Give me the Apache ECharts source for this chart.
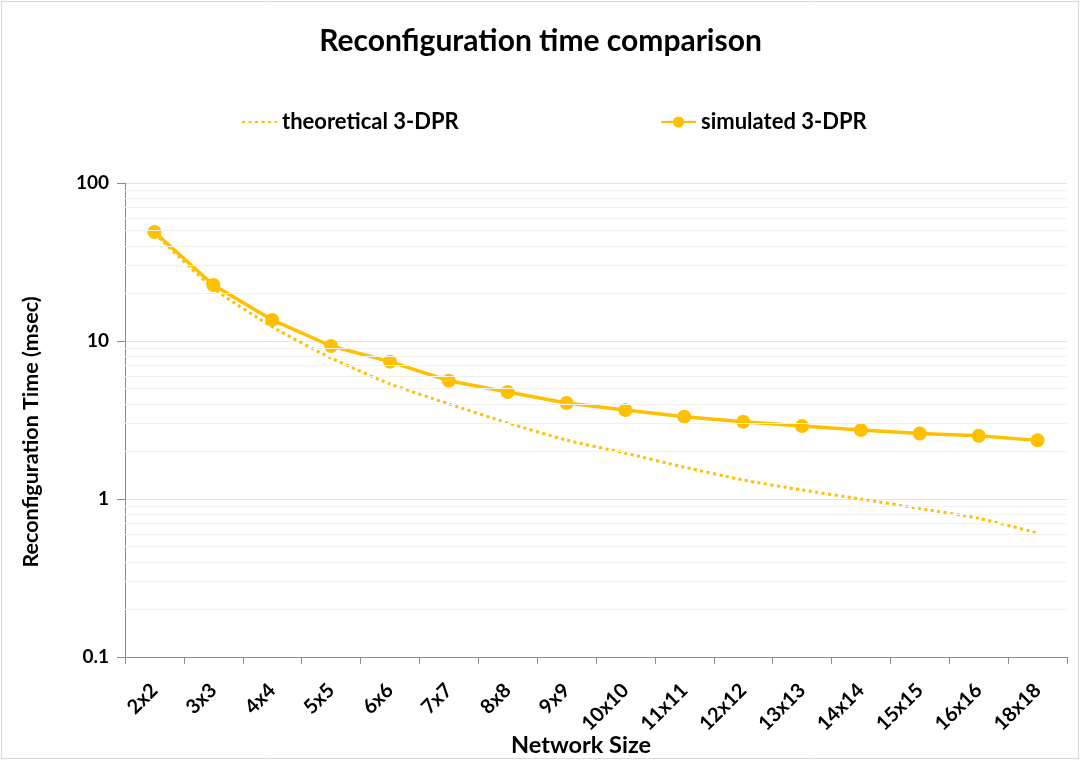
<!DOCTYPE html>
<html>
<head>
<meta charset="utf-8">
<title>Reconfiguration time comparison</title>
<script src="https://cdn.jsdelivr.net/npm/echarts@6/dist/echarts.min.js"></script>
<style>
  html, body { margin: 0; padding: 0; background: #fff; }
  #chart { width: 1081px; height: 761px; }
</style>
</head>
<body>
<div id="chart"></div>
<script>
// Network sizes along the x axis
const categories = ['2x2', '3x3', '4x4', '5x5', '6x6', '7x7', '8x8', '9x9', '10x10',
  '11x11', '12x12', '13x13', '14x14', '15x15', '16x16', '18x18'];

// Reconfiguration time (msec)
const theoretical = [48, 21.6, 12.3, 7.8, 5.35, 4.0, 3.03, 2.36, 1.95, 1.59, 1.32, 1.14, 1.0, 0.87, 0.755, 0.61];
const simulated = [49, 22.6, 13.6, 9.3, 7.4, 5.6, 4.75, 4.05, 3.66, 3.32, 3.08, 2.9, 2.73, 2.6, 2.51, 2.35];

// Log-axis decade ticks and the in-between minor grid values
const yTicks = [0.1, 1, 10, 100];
const minorGrid = [0.2, 0.3, 0.4, 0.5, 0.6, 0.7, 0.8, 0.9,
  2, 3, 4, 5, 6, 7, 8, 9,
  20, 30, 40, 50, 60, 70, 80, 90];

const FONT = 'Lato, "Open Sans", "Liberation Sans", sans-serif';
const GOLD = '#FFC000';
const AXIS = '#8c8c8c';

const chart = echarts.init(document.getElementById('chart'), null, { renderer: 'canvas' });

const legendText = { fontFamily: FONT, fontWeight: 'bold', fontSize: 22, color: '#000' };

chart.setOption({
  backgroundColor: '#fff',
  animation: false,
  title: {
    text: 'Reconfiguration time comparison',
    left: 'center',
    top: 21,
    textStyle: { fontFamily: FONT, fontWeight: 'bold', fontSize: 30, color: '#000' }
  },
  legend: [
    {
      data: [{ name: 'theoretical 3-DPR', itemStyle: { opacity: 0 } }],
      left: 236, top: 106,
      itemWidth: 35, itemHeight: 14,
      textStyle: legendText
    },
    {
      data: ['simulated 3-DPR'],
      left: 655, top: 106,
      itemWidth: 35, itemHeight: 14,
      textStyle: legendText
    }
  ],
  graphic: [
    {
      type: 'rect',
      shape: { x: 1.5, y: 1.5, width: 1077, height: 757 },
      style: { fill: 'none', stroke: '#d9d9d9', lineWidth: 1 },
      silent: true, z: -10
    },
    {
      // y axis title
      type: 'text',
      x: 31, y: 432,
      rotation: Math.PI / 2,
      style: {
        text: 'Reconfiguration Time (msec)',
        fontFamily: FONT, fontWeight: 'bold', fontSize: 21.5, fill: '#000',
        align: 'center', verticalAlign: 'middle'
      }
    },
    {
      // x axis title
      type: 'text',
      x: 581, y: 745,
      style: {
        text: 'Network Size',
        fontFamily: FONT, fontWeight: 'bold', fontSize: 23.5, fill: '#000',
        align: 'center', verticalAlign: 'middle'
      }
    }
  ],
  grid: { left: 125, right: 14, top: 183, bottom: 104, containLabel: false },
  xAxis: {
    type: 'category',
    data: categories,
    boundaryGap: true,
    axisLine: { lineStyle: { color: AXIS, width: 1 } },
    axisTick: { show: true, length: 7, interval: 0, lineStyle: { color: AXIS } },
    axisLabel: {
      interval: 0, rotate: 45, margin: 30,
      fontFamily: FONT, fontWeight: 'bold', fontSize: 20, color: '#000'
    },
    splitLine: { show: false }
  },
  yAxis: {
    type: 'log',
    logBase: 10,
    min: yTicks[0],
    max: yTicks[yTicks.length - 1],
    axisLine: { show: true, lineStyle: { color: AXIS, width: 1 } },
    axisTick: { show: true, length: 8, inside: false, lineStyle: { color: AXIS } },
    axisLabel: {
      margin: 16,
      fontFamily: FONT, fontWeight: 'bold', fontSize: 19, color: '#000',
      formatter: v => String(+v.toPrecision(3))
    },
    splitLine: { show: true, lineStyle: { color: '#e3e3e3', width: 1 } }
  },
  series: [
    {
      // minor grid lines between the decades
      name: 'grid',
      type: 'line',
      data: [],
      silent: true,
      z: 0,
      markLine: {
        silent: true,
        symbol: 'none',
        label: { show: false },
        lineStyle: { color: '#f1f1f1', width: 1, type: 'solid' },
        data: minorGrid.map(v => ({ yAxis: v }))
      }
    },
    {
      name: 'theoretical 3-DPR',
      type: 'line',
      data: theoretical,
      symbol: 'none',
      smooth: 0.2,
      z: 3,
      lineStyle: { color: GOLD, width: 3, type: [3, 3.5] },
      itemStyle: { color: GOLD }
    },
    {
      name: 'simulated 3-DPR',
      type: 'line',
      data: simulated,
      symbol: 'circle',
      symbolSize: 14,
      z: 4,
      lineStyle: { color: GOLD, width: 3.5 },
      itemStyle: { color: GOLD }
    }
  ]
});
</script>
</body>
</html>
